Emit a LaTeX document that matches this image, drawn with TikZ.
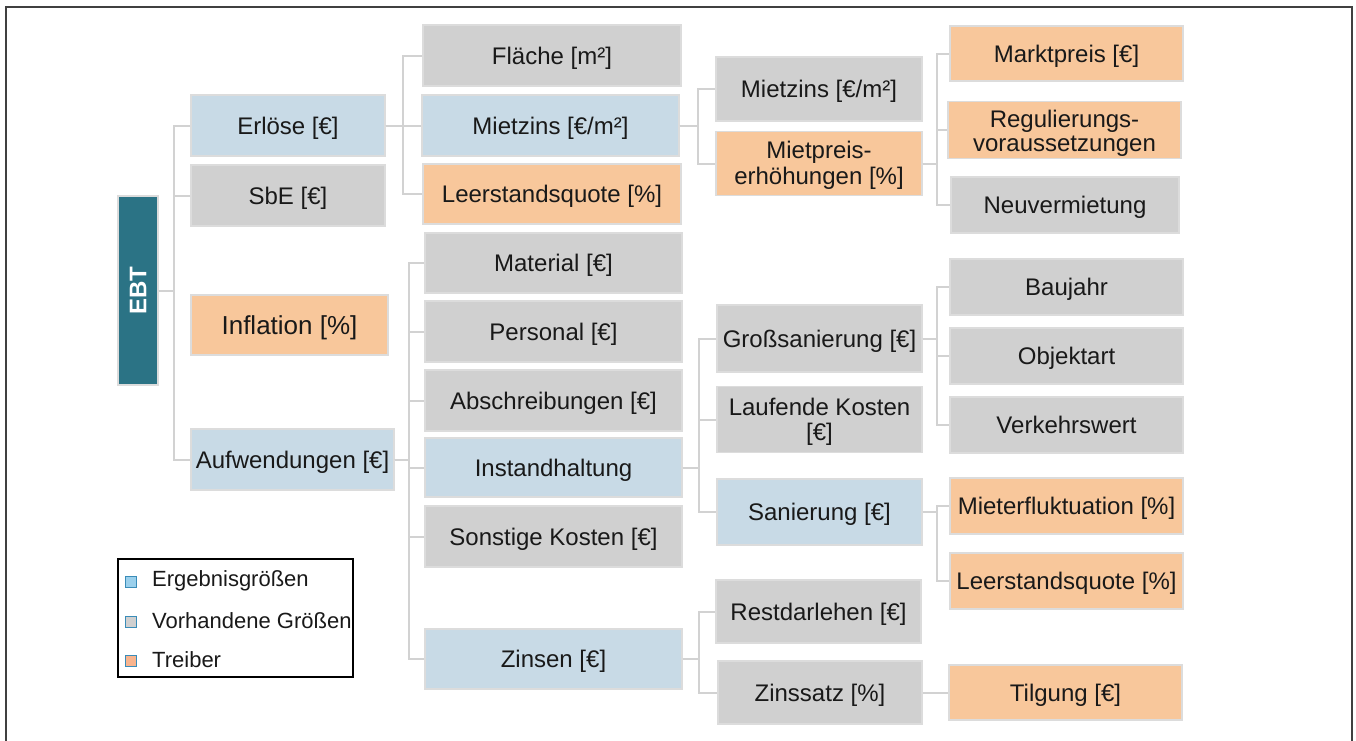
\documentclass[tikz,border=0pt]{standalone}
\usepackage{fontspec}
\setmainfont{Liberation Sans}
\definecolor{cgray}{HTML}{D0D0D0}
\definecolor{cblue}{HTML}{C8DAE6}
\definecolor{corange}{HTML}{F8C79B}
\definecolor{cborder}{HTML}{DCDCDC}
\definecolor{cline}{HTML}{D2D2D2}
\definecolor{cteal}{HTML}{2B7385}
\definecolor{cframe}{HTML}{404040}
\definecolor{lblue}{HTML}{9BD0EC}
\definecolor{lorange}{HTML}{F8B48E}
\definecolor{ledge}{HTML}{3A8CB8}
\tikzset{
  box/.style={draw=cborder, line width=1.5pt, inner sep=0pt, align=center,
    font=\fontsize{24}{24}\selectfont, text=black!90},
  oneline/.style={text height=19pt, text depth=1.8pt},
  twoline/.style={font=\fontsize{24}{#1}\selectfont, text height=42pt, text depth=0pt},
  gbox/.style={box, fill=cgray},
  bbox/.style={box, fill=cblue},
  obox/.style={box, fill=corange},
  conn/.style={draw=cline, line width=2pt},
  legsq/.style={draw=ledge, line width=0.8pt, minimum size=11pt, inner sep=0pt},
  legtxt/.style={anchor=west, inner sep=0pt, font=\fontsize{22}{22}\selectfont, text=black!90}
}
\begin{document}
\begin{tikzpicture}[x=1pt,y=-1pt]
\useasboundingbox (0,0) rectangle (1356,740);
\draw[cframe, line width=1.5pt] (6,7) rectangle (1352,780);

% root
\node[box, fill=cteal, minimum width=40pt, minimum height=189pt] (ebt) at (138,290.5) {};
\node[rotate=90, text=white, font=\fontsize{24}{25}\selectfont\bfseries] (ebtlabel) at (ebt.center) {EBT};

% level 1
\node[bbox, oneline, minimum width=194pt, minimum height=61pt] (erloese) at (288,125.5) {Erlöse [€]};
\node[gbox, oneline, minimum width=194pt, minimum height=61pt] (sbe) at (288,195.5) {SbE [€]};
\node[obox, minimum width=197pt, minimum height=60pt, font=\fontsize{26}{26}\selectfont, text height=21pt, text depth=1.4pt] (inflation) at (289.5,325) {Inflation [\%]};
\node[bbox, oneline, minimum width=203pt, minimum height=61pt] (aufw) at (292.5,459.5) {Aufwendungen [€]};

% level 2
\node[gbox, oneline, minimum width=258pt, minimum height=61pt] (flaeche) at (552,55.5) {Fläche [m²]};
\node[bbox, oneline, minimum width=257pt, minimum height=61pt] (mietzins) at (550.5,125.5) {Mietzins [€/m²]};
\node[obox, oneline, minimum width=258pt, minimum height=60pt] (leer1) at (552,194) {Leerstandsquote [\%]};
\node[gbox, oneline, minimum width=257pt, minimum height=60pt] (material) at (553.5,263) {Material [€]};
\node[gbox, oneline, minimum width=257pt, minimum height=61pt] (personal) at (553.5,331.5) {Personal [€]};
\node[gbox, oneline, minimum width=257pt, minimum height=61pt] (abschr) at (553.5,400.5) {Abschreibungen [€]};
\node[bbox, oneline, minimum width=257pt, minimum height=59pt] (instand) at (553.5,467.5) {Instandhaltung};
\node[gbox, oneline, minimum width=257pt, minimum height=61pt] (sonst) at (553.5,536.5) {Sonstige Kosten [€]};
\node[bbox, oneline, minimum width=257pt, minimum height=60pt] (zinsen) at (553.5,659) {Zinsen [€]};

% level 3
\node[gbox, oneline, minimum width=206pt, minimum height=64pt] (mietzins2) at (819,89) {Mietzins [€/m²]};
\node[obox, twoline=26, minimum width=206pt, minimum height=64pt] (mieterh) at (819,163.5) {Mietpreis-\\erhöhungen [\%]};
\node[gbox, oneline, minimum width=205pt, minimum height=67pt] (gross) at (819.5,338.5) {Großsanierung [€]};
\node[gbox, twoline=25, minimum width=205pt, minimum height=66pt] (lauf) at (819.5,419.5) {Laufende Kosten\\{}[€]};
\node[bbox, oneline, minimum width=205pt, minimum height=66pt] (san) at (819.5,512) {Sanierung [€]};
\node[gbox, oneline, minimum width=205pt, minimum height=63pt] (rest) at (818.5,611.5) {Restdarlehen [€]};
\node[gbox, oneline, minimum width=204pt, minimum height=63pt] (zinssatz) at (820,692.5) {Zinssatz [\%]};

% level 4
\node[obox, oneline, minimum width=233pt, minimum height=55pt] (markt) at (1066.5,53.5) {Marktpreis [€]};
\node[obox, twoline=23.5, minimum width=233pt, minimum height=57pt] (regul) at (1064.5,130) {Regulierungs-\\voraussetzungen};
\node[gbox, oneline, minimum width=228pt, minimum height=56pt] (neuv) at (1065,205) {Neuvermietung};
\node[gbox, oneline, minimum width=233pt, minimum height=56pt] (baujahr) at (1066.5,287) {Baujahr};
\node[gbox, oneline, minimum width=233pt, minimum height=56pt] (objekt) at (1066.5,356) {Objektart};
\node[gbox, oneline, minimum width=233pt, minimum height=56pt] (verkehr) at (1066.5,425) {Verkehrswert};
\node[obox, oneline, minimum width=233pt, minimum height=56pt] (mieterfl) at (1066.5,506) {Mieterfluktuation [\%]};
\node[obox, oneline, minimum width=233pt, minimum height=56pt] (leer2) at (1066.5,581) {Leerstandsquote [\%]};
\node[obox, oneline, minimum width=233pt, minimum height=55pt] (tilgung) at (1065.5,692.5) {Tilgung [€]};

% trunk coordinates
\coordinate (t0) at (174,0);
\coordinate (t1) at (403,0);
\coordinate (t2) at (409,0);
\coordinate (t3) at (698,0);
\coordinate (t4) at (937,0);
\coordinate (t5) at (699,0);
\coordinate (t6) at (937,0);
\coordinate (t8) at (699,0);

% connectors
\foreach \c in {erloese,sbe,aufw}
  \draw[conn] (ebt.east) -- (ebt.east -| t0) |- (\c.west);
\foreach \c in {flaeche,mietzins,leer1}
  \draw[conn] (erloese.east) -- (erloese.east -| t1) |- (\c.west);
\foreach \c in {material,personal,abschr,instand,sonst,zinsen}
  \draw[conn] (aufw.east) -- (aufw.east -| t2) |- (\c.west);
\foreach \c in {mietzins2,mieterh}
  \draw[conn] (mietzins.east) -- (mietzins.east -| t3) |- (\c.west);
\foreach \c in {markt,regul,neuv}
  \draw[conn] (mieterh.east) -- (mieterh.east -| t4) |- (\c.west);
\foreach \c in {gross,lauf,san}
  \draw[conn] (instand.east) -- (instand.east -| t5) |- (\c.west);
\foreach \c in {baujahr,objekt,verkehr}
  \draw[conn] (gross.east) -- (gross.east -| t6) |- (\c.west);
\foreach \c in {mieterfl,leer2}
  \draw[conn] (san.east) -- (san.east -| t6) |- (\c.west);
\foreach \c in {rest,zinssatz}
  \draw[conn] (zinsen.east) -- (zinsen.east -| t8) |- (\c.west);
\draw[conn] (zinssatz.east) -- (tilgung.west);

% legend
\node[draw=black, line width=1.2pt, minimum width=235pt, minimum height=118pt, inner sep=0pt] (legend) at (235.5,618) {};
\node[legsq, fill=lblue] (sq1) at (131,582) {};
\node[legsq, fill=cgray] (sq2) at (131,622) {};
\node[legsq, fill=lorange] (sq3) at (131,661) {};
\node[legtxt] (lt1) at (152,581) {Ergebnisgrößen};
\node[legtxt] (lt2) at (152,621) {Vorhandene Größen};
\node[legtxt] (lt3) at (152,660) {Treiber};
\end{tikzpicture}
\end{document}
